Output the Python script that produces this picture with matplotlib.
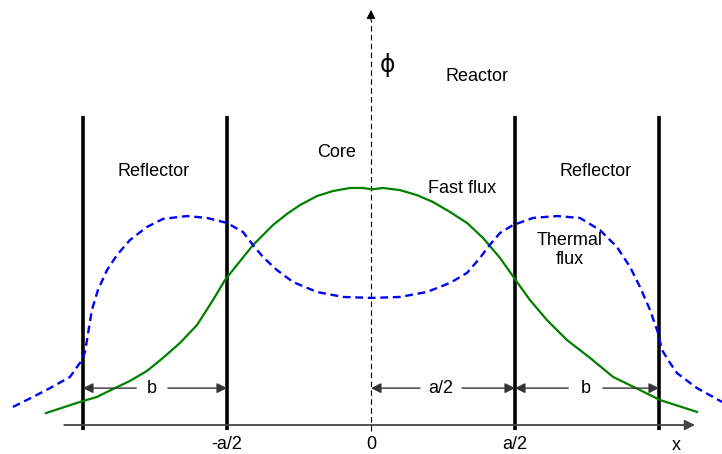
import matplotlib
matplotlib.use("Agg")
import matplotlib.pyplot as plt

plt.rcParams['font.family'] = ['Liberation Sans', 'DejaVu Sans']

# x in units of a/2 (core half width), phi relative to fast flux peak
fast_x = [-2.257, -2.021, -1.903, -1.792, -1.674, -1.556, -1.444, -1.326, -1.208, -1.097,
          -1.014, -0.931, -0.819, -0.681, -0.583, -0.493, -0.375, -0.264, -0.146, -0.056,
          0.007, 0.083, 0.201, 0.319, 0.431, 0.549, 0.667, 0.778, 0.896, 1.014, 1.104,
          1.222, 1.361, 1.521, 1.681, 1.868, 2.007, 2.264]
fast_phi = [0.050, 0.097, 0.118, 0.151, 0.185, 0.227, 0.282, 0.345, 0.420, 0.525,
            0.609, 0.672, 0.756, 0.840, 0.887, 0.924, 0.962, 0.983, 0.996, 0.996,
            0.990, 0.996, 0.987, 0.966, 0.937, 0.895, 0.849, 0.786, 0.702, 0.601, 0.525,
            0.441, 0.357, 0.282, 0.202, 0.147, 0.105, 0.055]

thermal_x = [-2.486, -2.347, -2.229, -2.090, -2.007, -1.986, -1.972, -1.938, -1.896, -1.833,
             -1.764, -1.674, -1.556, -1.444, -1.278, -1.139, -1.0, -0.889, -0.819, -0.750,
             -0.653, -0.542, -0.375, -0.194, 0.007, 0.201, 0.389, 0.549, 0.667, 0.757,
             0.813, 0.896, 0.986, 1.125, 1.292, 1.451, 1.590, 1.708, 1.799, 1.868, 1.938,
             1.993, 2.021, 2.076, 2.125, 2.264, 2.438]
thermal_phi = [0.076, 0.118, 0.155, 0.202, 0.273, 0.307, 0.357, 0.483, 0.567, 0.651,
               0.714, 0.777, 0.832, 0.866, 0.878, 0.870, 0.849, 0.811, 0.756, 0.706,
               0.651, 0.601, 0.559, 0.538, 0.534, 0.538, 0.559, 0.597, 0.639, 0.702,
               0.748, 0.807, 0.840, 0.870, 0.878, 0.870, 0.819, 0.748, 0.664, 0.580, 0.483,
               0.387, 0.315, 0.261, 0.218, 0.155, 0.097]

boundaries = [-2, -1, 1, 2]
tick_pos = [-1, 0, 1]
tick_labels = ['-a/2', '0', 'a/2']

fig = plt.figure(figsize=(7.22, 4.54), dpi=100)
ax = fig.add_axes([0, 0, 1, 1])
ax.set_xlim(-2.576, 2.4375)
ax.set_ylim(-0.1218, 1.7857)
ax.axis('off')

fs = 13

# x axis with arrow
ax.annotate('', xy=(2.25, 0), xytext=(-2.13, 0),
            arrowprops=dict(arrowstyle='-|>', color='#444444', lw=1.3,
                            shrinkA=0, shrinkB=0, mutation_scale=15))
# dashed phi axis
ax.plot([0, 0], [-0.025, 1.70], color='black', lw=0.8, dashes=(5, 3))
ax.annotate('', xy=(0, 1.744), xytext=(0, 1.70),
            arrowprops=dict(arrowstyle='-|>', color='black', lw=0.8,
                            shrinkA=0, shrinkB=0, mutation_scale=13))

# core / reflector boundaries
for b in boundaries:
    ax.plot([b, b], [-0.022, 1.30], color='black', lw=2.6, solid_capstyle='butt')

ax.plot(fast_x, fast_phi, color='#008000', lw=1.6, solid_joinstyle='round')
ax.plot(thermal_x, thermal_phi, color='#0000ff', lw=1.7, dashes=(3.3, 2))

# dimension arrows
dim_y = 0.155
dims = [(-2, -1, -1.52, 'b', 0.11), (0, 1, 0.486, 'a/2', 0.146), (1, 2, 1.49, 'b', 0.12)]
for lo, hi, mid, label, gap in dims:
    for end in (lo, hi):
        start = mid - gap if end == lo else mid + gap
        ax.annotate('', xy=(end, dim_y), xytext=(start, dim_y),
                    arrowprops=dict(arrowstyle='-|>', color='#333333', lw=1.0,
                                    shrinkA=0, shrinkB=0, mutation_scale=15))
    ax.text(mid, dim_y, label, ha='center', va='center', fontsize=fs)

for p, lab in zip(tick_pos, tick_labels):
    ax.text(p, -0.08, lab, ha='center', va='center', fontsize=fs)
ax.text(2.118, -0.084, 'x', ha='center', va='center', fontsize=fs)

ax.text(0.118, 1.513, 'ϕ', ha='center', va='center', fontsize=17, family=['DejaVu Sans'])
ax.text(0.736, 1.466, 'Reactor', ha='center', va='center', fontsize=fs)
ax.text(-0.236, 1.143, 'Core', ha='center', va='center', fontsize=fs)
ax.text(-1.507, 1.067, 'Reflector', ha='center', va='center', fontsize=fs)
ax.text(1.5625, 1.067, 'Reflector', ha='center', va='center', fontsize=fs)
ax.text(0.632, 0.992, 'Fast flux', ha='center', va='center', fontsize=fs)
ax.text(1.382, 0.735, 'Thermal\nflux', ha='center', va='center', fontsize=fs,
        linespacing=1.2)

fig.savefig('out.png', dpi=100)
